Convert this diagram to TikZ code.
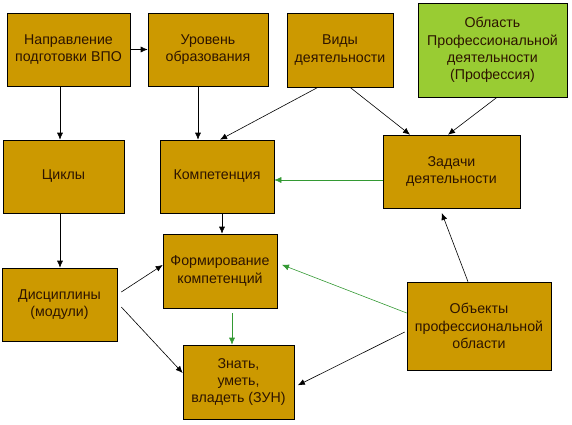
\documentclass[tikz,border=0pt]{standalone}
\usepackage{fontspec}
\setmainfont{Liberation Sans}
\usetikzlibrary{positioning, arrows.meta}
\definecolor{gold}{RGB}{204,153,0}
\definecolor{lime}{RGB}{153,204,51}
\definecolor{ink}{RGB}{45,20,0}
\definecolor{arrgreen}{RGB}{51,153,51}

\begin{document}
\begin{tikzpicture}[x=1pt, y=-1pt, ->, >={Latex[length=7pt,width=6pt]}, line width=0.6pt,
    box/.style={draw, fill=gold, text=ink, align=center, inner sep=2pt, font=\fontsize{14.2}{17.2}\selectfont},
    gr/.style={draw=arrgreen}]
    \useasboundingbox (0,0) rectangle (572,424);
    \node[box, minimum width=123pt, minimum height=73pt] (Napr) at (68.5,49.5) {Направление\\подготовки ВПО};
    \node[box, minimum width=120pt, minimum height=73pt] (Urov) at (208,49.5) {Уровень\\образования};
    \node[box, minimum width=106pt, minimum height=74pt] (Vidy) at (340,50) {Виды\\деятельности};
    \node[box, fill=lime, minimum width=149pt, minimum height=94pt] (Obl) at (492.5,50) {Область\\Профессиональной\\деятельности\\(Профессия)};
    \node[box, minimum width=121pt, minimum height=73pt] (Cikl) at (63.5,176.5) {Циклы};
    \node[box, minimum width=114pt, minimum height=73pt] (Komp) at (217,176.5) {Компетенция};
    \node[box, minimum width=137pt, minimum height=73pt] (Zad) at (451.5,171.5) {Задачи\\деятельности};
    \node[box, minimum width=115pt, minimum height=73pt] (Disc) at (59.5,304.5) {Дисциплины\\(модули)};
    \node[box, minimum width=114pt, minimum height=74pt] (Form) at (220,271) {Формирование\\компетенций};
    \node[box, minimum width=111pt, minimum height=74pt] (Zun) at (238.5,382) {Знать,\\уметь,\\владеть (ЗУН)};
    \node[box, minimum width=144pt, minimum height=88pt] (Obj) at (479,326) {Объекты\\профессиональной\\области};
    \draw (Napr.east) -- (Urov.west);
    \draw ([xshift=-8.5pt]Napr.south) -- ([xshift=-3.5pt]Cikl.north);
    \draw ([xshift=-10pt]Urov.south) -- ([xshift=-19pt]Komp.north);
    \draw ([xshift=-22pt]Vidy.south) -- ([xshift=3pt]Komp.north);
    \draw ([xshift=10pt]Vidy.south) -- ([xshift=-41.5pt]Zad.north);
    \draw ([xshift=4.5pt]Obl.south) -- ([xshift=-3.5pt]Zad.north);
    \draw[gr] ([yshift=-8.5pt]Zad.west) -- ([yshift=-3.5pt]Komp.east);
    \draw ([xshift=-3.5pt]Cikl.south) -- ([xshift=0.5pt]Disc.north);
    \draw ([xshift=5pt]Komp.south) -- ([xshift=2pt]Form.north);
    \draw ([xshift=4pt,yshift=12.5pt]Disc.east) -- ([yshift=6pt]Form.west);
    \draw ([xshift=4pt,yshift=-2.5pt]Disc.east) -- ([yshift=9pt]Zun.west);
    \draw[gr, shorten <=5pt] ([xshift=12pt]Form.south) -- ([xshift=-6.5pt]Zun.north);
    \draw[gr, shorten >=5pt] ([yshift=13pt]Obj.west) -- ([yshift=8pt]Form.east);
    \draw[shorten >=4pt] ([xshift=-2pt,yshift=-6pt]Obj.west) -- ([yshift=-5pt]Zun.east);
    \draw[shorten >=5pt] ([xshift=-11pt]Obj.north) -- ([xshift=-11.5pt]Zad.south);
\end{tikzpicture}
\end{document}
